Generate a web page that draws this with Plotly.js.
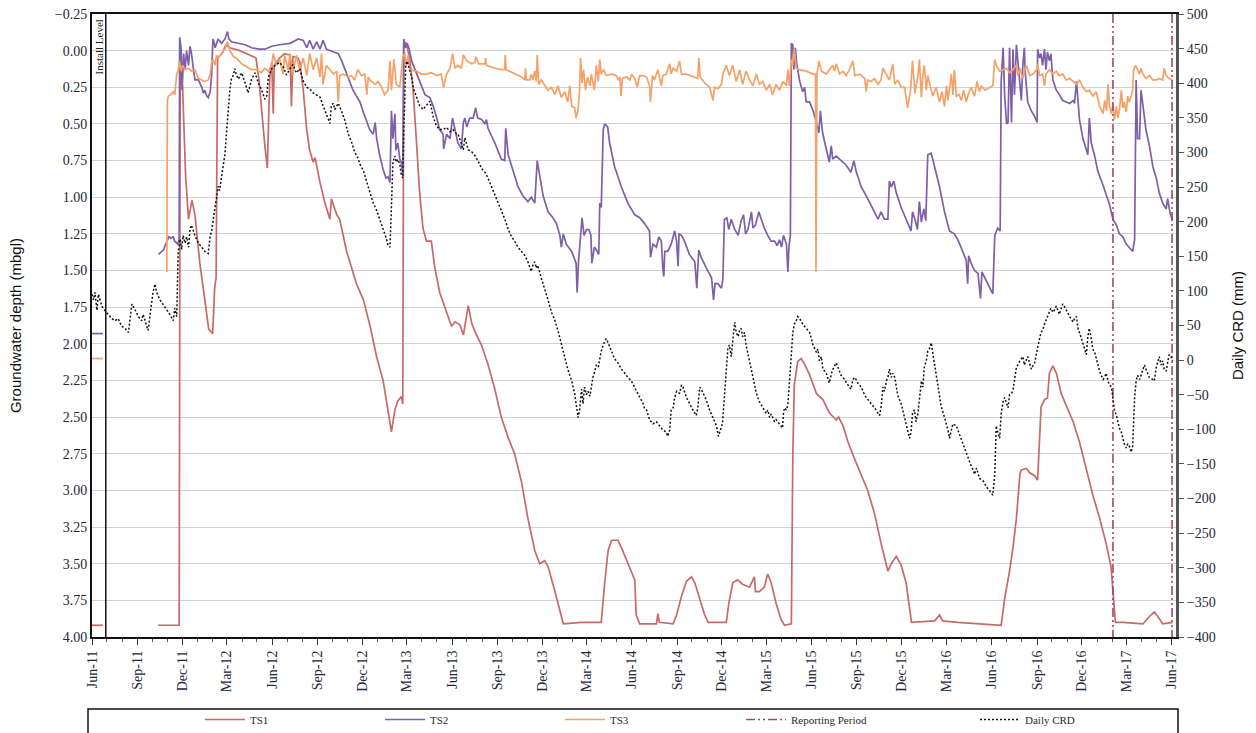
<!DOCTYPE html>
<html>
<head>
<meta charset="utf-8">
<script src="https://cdn.plot.ly/plotly-3.0.1.min.js"></script>
<style>
  html, body { margin: 0; padding: 0; background: #fff; }
  #chart { width: 1256px; height: 733px; }
</style>
</head>
<body>
<div id="chart"></div>
<script>
// Groundwater depth (mbgl) for three monitoring bores, plus daily cumulative rainfall departure (mm)

const X_RANGE = ['2011-06-01', '2017-06-10'];
const DEPTH_RANGE = [4.0, -0.25];
const CRD_RANGE = [-400, 500];
const INSTALL_DATE = '2011-06-29';
const REPORTING_DATES = ['2017-02-02', '2017-06-02'];

// TS1 depth readings [date, mbgl]
const ts1 = [
['2011-06-01',3.92],['2011-06-23',3.92],['2011-06-24',null],
['2011-10-13',3.92],['2011-11-25',3.92],['2011-11-27',0.10],['2011-12-02',0.25],['2011-12-08',0.85],['2011-12-14',1.15],['2011-12-21',1.02],['2011-12-27',1.12],['2012-01-06',1.45],['2012-01-16',1.72],['2012-01-24',1.90],['2012-02-01',1.93],['2012-02-05',1.62],['2012-02-08',1.55],['2012-02-11',0.05],['2012-02-20',0.02],['2012-02-28',-0.04],['2012-03-07',-0.02],['2012-03-27',0.00],['2012-04-16',0.03],['2012-04-29',0.05],['2012-05-05',0.20],['2012-05-11',0.45],['2012-05-17',0.65],['2012-05-22',0.80],['2012-05-25',0.45],['2012-05-27',0.18],['2012-05-31',0.08],['2012-06-03',0.43],['2012-06-05',0.10],['2012-06-16',0.05],['2012-06-26',0.02],['2012-07-07',0.03],['2012-07-10',0.38],['2012-07-13',0.04],['2012-07-23',0.05],['2012-07-27',0.08],['2012-08-03',0.27],['2012-08-10',0.54],['2012-08-16',0.68],['2012-08-23',0.76],['2012-08-27',0.73],['2012-09-06',0.90],['2012-09-16',1.04],['2012-09-26',1.15],['2012-09-29',1.01],['2012-10-10',1.12],['2012-10-16',1.15],['2012-10-30',1.37],['2012-11-19',1.59],['2012-12-03',1.70],['2012-12-16',1.87],['2012-12-30',2.09],['2013-01-12',2.25],['2013-01-22',2.45],['2013-01-29',2.60],['2013-02-05',2.45],['2013-02-11',2.39],['2013-02-18',2.36],['2013-02-21',2.41],['2013-02-23',-0.06],['2013-02-28',-0.05],['2013-03-07',0.05],['2013-03-14',0.27],['2013-03-21',0.63],['2013-03-27',0.96],['2013-04-03',1.21],['2013-04-10',1.30],['2013-04-20',1.30],['2013-04-27',1.48],['2013-05-07',1.65],['2013-05-21',1.79],['2013-05-31',1.88],['2013-06-07',1.85],['2013-06-17',1.87],['2013-06-24',1.94],['2013-06-29',1.85],['2013-07-04',1.74],['2013-07-11',1.86],['2013-07-18',1.92],['2013-07-31',2.01],['2013-08-13',2.14],['2013-08-27',2.31],['2013-09-09',2.50],['2013-09-23',2.64],['2013-10-06',2.75],['2013-10-20',2.94],['2013-11-02',3.19],['2013-11-16',3.41],['2013-11-26',3.50],['2013-12-06',3.48],['2013-12-13',3.52],['2013-12-27',3.69],['2014-01-06',3.83],['2014-01-13',3.91],['2014-02-19',3.90],['2014-03-31',3.90],['2014-04-07',3.63],['2014-04-14',3.41],['2014-04-21',3.34],['2014-05-04',3.34],['2014-05-11',3.39],['2014-05-24',3.50],['2014-06-07',3.61],['2014-06-10',3.85],['2014-06-17',3.91],['2014-07-21',3.91],['2014-07-24',3.84],['2014-07-27',3.90],['2014-08-24',3.91],['2014-08-31',3.85],['2014-09-10',3.72],['2014-09-20',3.62],['2014-09-30',3.59],['2014-10-07',3.63],['2014-10-17',3.74],['2014-10-27',3.85],['2014-11-03',3.90],['2014-12-10',3.90],['2014-12-15',3.77],['2014-12-23',3.63],['2015-01-02',3.61],['2015-01-12',3.64],['2015-01-26',3.66],['2015-02-02',3.61],['2015-02-05',3.59],['2015-02-07',3.69],['2015-02-15',3.69],['2015-02-25',3.66],['2015-03-04',3.57],['2015-03-11',3.63],['2015-03-21',3.77],['2015-03-31',3.88],['2015-04-07',3.92],['2015-04-21',3.91],['2015-04-24',2.75],['2015-04-27',2.28],['2015-05-04',2.12],['2015-05-11',2.10],['2015-05-18',2.14],['2015-05-28',2.21],['2015-06-11',2.34],['2015-06-24',2.38],['2015-07-01',2.43],['2015-07-07',2.47],['2015-07-21',2.52],['2015-07-26',2.50],['2015-08-04',2.56],['2015-08-14',2.67],['2015-08-28',2.79],['2015-09-10',2.89],['2015-09-23',3.00],['2015-10-07',3.16],['2015-10-20',3.36],['2015-11-03',3.55],['2015-11-10',3.50],['2015-11-20',3.45],['2015-11-30',3.51],['2015-12-10',3.63],['2015-12-17',3.80],['2015-12-21',3.90],['2016-02-06',3.89],['2016-02-16',3.85],['2016-02-22',3.89],['2016-03-24',3.90],['2016-06-20',3.92],['2016-06-27',3.74],['2016-07-07',3.55],['2016-07-14',3.39],['2016-07-21',3.19],['2016-07-28',2.89],['2016-07-31',2.86],['2016-08-10',2.85],['2016-08-17',2.88],['2016-08-27',2.90],['2016-09-02',2.93],['2016-09-09',2.43],['2016-09-16',2.38],['2016-09-22',2.37],['2016-09-26',2.20],['2016-10-03',2.15],['2016-10-10',2.20],['2016-10-20',2.34],['2016-10-30',2.42],['2016-11-13',2.53],['2016-11-26',2.67],['2016-12-10',2.86],['2016-12-23',3.03],['2017-01-06',3.19],['2017-01-19',3.36],['2017-01-29',3.52],['2017-02-03',3.74],['2017-02-07',3.90],['2017-02-22',3.90],['2017-04-04',3.91],['2017-04-17',3.86],['2017-04-27',3.83],['2017-05-04',3.86],['2017-05-14',3.91],['2017-06-03',3.90]
];

// TS2 depth readings [date, mbgl]
const ts2 = [
['2011-06-01',1.93],['2011-06-23',1.93],['2011-06-24',null],
['2011-10-14',1.39],['2011-10-24',1.36],['2011-10-31',1.30],['2011-11-04',1.27],['2011-11-08',1.28],['2011-11-13',1.27],['2011-11-16',1.30],['2011-11-22',1.32],['2011-11-25',1.29],['2011-11-26',-0.09],['2011-11-29',-0.01],['2011-12-01',0.27],['2011-12-04',0.02],['2011-12-07',0.13],['2011-12-10',0.00],['2011-12-14',0.10],['2011-12-17',-0.03],['2011-12-20',0.02],['2011-12-24',0.13],['2011-12-27',0.20],['2012-01-03',0.20],['2012-01-10',0.25],['2012-01-13',0.29],['2012-01-16',0.27],['2012-01-20',0.31],['2012-01-23',0.32],['2012-01-27',0.28],['2012-01-30',0.16],['2012-02-01',-0.04],['2012-02-02',-0.08],['2012-02-06',-0.02],['2012-02-09',-0.06],['2012-02-12',-0.08],['2012-02-19',-0.05],['2012-02-26',-0.08],['2012-03-02',-0.13],['2012-03-05',-0.08],['2012-03-10',-0.06],['2012-03-24',-0.05],['2012-04-07',-0.04],['2012-04-20',-0.02],['2012-05-04',-0.01],['2012-05-17',-0.01],['2012-05-31',-0.03],['2012-06-16',-0.04],['2012-07-07',-0.05],['2012-07-24',-0.08],['2012-08-03',-0.07],['2012-08-10',-0.02],['2012-08-16',-0.07],['2012-08-23',-0.01],['2012-08-30',-0.06],['2012-09-06',-0.01],['2012-09-12',-0.07],['2012-09-19',-0.01],['2012-09-26',0.00],['2012-10-06',0.01],['2012-10-13',0.02],['2012-10-20',0.07],['2012-10-30',0.16],['2012-11-06',0.23],['2012-11-12',0.27],['2012-11-19',0.31],['2012-11-26',0.35],['2012-12-03',0.42],['2012-12-10',0.49],['2012-12-16',0.54],['2012-12-23',0.57],['2012-12-27',0.49],['2012-12-30',0.60],['2013-01-05',0.71],['2013-01-12',0.81],['2013-01-18',0.87],['2013-01-22',0.86],['2013-01-26',0.90],['2013-01-29',0.41],['2013-02-01',0.60],['2013-02-05',0.43],['2013-02-07',0.68],['2013-02-11',0.63],['2013-02-15',0.74],['2013-02-18',0.76],['2013-02-21',0.85],['2013-02-23',-0.08],['2013-02-27',-0.02],['2013-03-02',-0.05],['2013-03-06',-0.01],['2013-03-11',0.07],['2013-03-18',0.13],['2013-03-24',0.18],['2013-03-31',0.24],['2013-04-07',0.30],['2013-04-17',0.32],['2013-04-24',0.38],['2013-05-01',0.46],['2013-05-07',0.54],['2013-05-14',0.57],['2013-05-15',0.67],['2013-05-21',0.57],['2013-05-28',0.60],['2013-06-02',0.46],['2013-06-10',0.60],['2013-06-13',0.63],['2013-06-20',0.67],['2013-06-24',0.49],['2013-06-27',0.46],['2013-07-01',0.52],['2013-07-07',0.46],['2013-07-14',0.46],['2013-07-19',0.39],['2013-07-23',0.46],['2013-07-31',0.47],['2013-08-07',0.50],['2013-08-10',0.47],['2013-08-13',0.53],['2013-08-27',0.63],['2013-09-09',0.74],['2013-09-16',0.75],['2013-09-18',0.53],['2013-09-23',0.71],['2013-10-03',0.82],['2013-10-13',0.93],['2013-10-23',0.99],['2013-11-02',1.03],['2013-11-09',1.00],['2013-11-16',1.04],['2013-11-21',0.75],['2013-11-26',0.85],['2013-12-03',0.99],['2013-12-13',1.10],['2013-12-23',1.14],['2013-12-30',1.18],['2014-01-06',1.26],['2014-01-09',1.34],['2014-01-13',1.25],['2014-01-19',1.32],['2014-01-30',1.37],['2014-02-08',1.45],['2014-02-10',1.65],['2014-02-13',1.43],['2014-02-17',1.29],['2014-02-20',1.14],['2014-02-24',1.26],['2014-03-01',1.22],['2014-03-06',1.22],['2014-03-10',1.26],['2014-03-12',1.45],['2014-03-17',1.34],['2014-03-21',1.36],['2014-03-26',1.39],['2014-03-28',1.04],['2014-03-31',1.07],['2014-04-04',0.54],['2014-04-07',0.50],['2014-04-13',0.52],['2014-04-17',0.63],['2014-04-27',0.79],['2014-05-11',0.93],['2014-05-24',1.04],['2014-06-07',1.12],['2014-06-17',1.14],['2014-06-27',1.18],['2014-07-07',1.23],['2014-07-09',1.41],['2014-07-14',1.32],['2014-07-21',1.34],['2014-07-26',1.27],['2014-07-31',1.30],['2014-08-03',1.48],['2014-08-05',1.54],['2014-08-07',1.37],['2014-08-13',1.37],['2014-08-20',1.32],['2014-08-24',1.26],['2014-08-27',1.23],['2014-08-31',1.30],['2014-09-03',1.47],['2014-09-05',1.25],['2014-09-10',1.26],['2014-09-16',1.30],['2014-09-26',1.39],['2014-10-07',1.44],['2014-10-11',1.62],['2014-10-15',1.36],['2014-10-20',1.41],['2014-10-30',1.48],['2014-11-10',1.55],['2014-11-14',1.70],['2014-11-17',1.59],['2014-11-23',1.59],['2014-11-30',1.62],['2014-12-03',1.56],['2014-12-06',1.15],['2014-12-11',1.14],['2014-12-15',1.22],['2014-12-20',1.15],['2014-12-27',1.22],['2015-01-03',1.26],['2015-01-09',1.16],['2015-01-14',1.12],['2015-01-18',1.25],['2015-01-23',1.22],['2015-01-30',1.10],['2015-02-02',1.21],['2015-02-07',1.19],['2015-02-14',1.10],['2015-02-19',1.15],['2015-02-25',1.21],['2015-03-04',1.26],['2015-03-11',1.30],['2015-03-18',1.30],['2015-03-23',1.33],['2015-03-28',1.29],['2015-04-01',1.34],['2015-04-05',1.26],['2015-04-11',1.32],['2015-04-14',1.51],['2015-04-16',1.34],['2015-04-19',1.26],['2015-04-21',-0.05],['2015-04-24',-0.04],['2015-04-26',0.13],['2015-04-29',-0.02],['2015-05-02',0.09],['2015-05-08',0.21],['2015-05-14',0.28],['2015-05-18',0.25],['2015-05-21',0.35],['2015-05-28',0.35],['2015-06-04',0.41],['2015-06-11',0.49],['2015-06-16',0.56],['2015-06-19',0.41],['2015-06-23',0.55],['2015-06-28',0.63],['2015-07-04',0.71],['2015-07-07',0.76],['2015-07-11',0.65],['2015-07-14',0.74],['2015-07-21',0.72],['2015-07-31',0.75],['2015-08-10',0.78],['2015-08-20',0.83],['2015-08-26',0.75],['2015-08-31',0.83],['2015-09-10',0.93],['2015-09-23',1.01],['2015-10-07',1.10],['2015-10-14',1.15],['2015-10-20',1.10],['2015-10-27',1.15],['2015-11-03',1.15],['2015-11-06',0.89],['2015-11-10',0.93],['2015-11-15',0.89],['2015-11-20',0.97],['2015-11-30',1.07],['2015-12-10',1.15],['2015-12-20',1.23],['2015-12-23',1.10],['2015-12-28',1.15],['2016-01-02',1.22],['2016-01-06',1.03],['2016-01-10',1.17],['2016-01-15',1.08],['2016-01-19',1.16],['2016-01-23',0.71],['2016-01-30',0.70],['2016-02-06',0.79],['2016-02-16',0.93],['2016-02-26',1.10],['2016-03-07',1.23],['2016-03-17',1.25],['2016-03-24',1.29],['2016-04-03',1.37],['2016-04-10',1.43],['2016-04-13',1.59],['2016-04-15',1.40],['2016-04-20',1.45],['2016-04-27',1.50],['2016-05-04',1.52],['2016-05-09',1.69],['2016-05-12',1.51],['2016-05-18',1.55],['2016-05-28',1.62],['2016-06-03',1.66],['2016-06-07',1.26],['2016-06-10',1.23],['2016-06-13',1.21],['2016-06-18',1.23],['2016-06-20',0.21],['2016-06-24',-0.02],['2016-06-27',0.30],['2016-07-01',0.50],['2016-07-04',0.49],['2016-07-07',-0.02],['2016-07-11',0.49],['2016-07-14',-0.01],['2016-07-17',0.30],['2016-07-21',-0.04],['2016-07-24',0.07],['2016-07-31',0.34],['2016-08-03',0.10],['2016-08-06',-0.02],['2016-08-08',0.15],['2016-08-13',0.35],['2016-08-20',0.41],['2016-08-27',0.45],['2016-09-01',0.49],['2016-09-02',-0.01],['2016-09-06',0.05],['2016-09-09',0.02],['2016-09-12',0.10],['2016-09-16',-0.01],['2016-09-19',0.13],['2016-09-22',0.01],['2016-09-26',0.07],['2016-09-29',0.02],['2016-10-03',0.20],['2016-10-10',0.27],['2016-10-16',0.30],['2016-10-23',0.34],['2016-10-30',0.35],['2016-11-06',0.36],['2016-11-13',0.34],['2016-11-16',0.36],['2016-11-20',0.21],['2016-11-23',0.34],['2016-11-26',0.47],['2016-12-03',0.60],['2016-12-13',0.71],['2016-12-16',0.46],['2016-12-20',0.63],['2016-12-27',0.72],['2017-01-02',0.82],['2017-01-13',0.92],['2017-01-23',1.03],['2017-01-26',1.05],['2017-02-02',1.15],['2017-02-09',1.19],['2017-02-15',1.25],['2017-02-22',1.27],['2017-03-01',1.32],['2017-03-07',1.34],['2017-03-14',1.37],['2017-03-18',1.29],['2017-03-21',0.20],['2017-03-24',0.60],['2017-03-28',0.60],['2017-03-31',0.27],['2017-04-04',0.38],['2017-04-10',0.54],['2017-04-17',0.65],['2017-04-24',0.79],['2017-05-01',0.87],['2017-05-07',0.97],['2017-05-14',1.04],['2017-05-21',1.08],['2017-05-24',1.01],['2017-05-29',1.11],['2017-06-03',1.16]
];

// TS3 depth readings [date, mbgl]
const ts3 = [
['2011-06-01',2.10],['2011-06-23',2.10],['2011-06-24',null],
['2011-10-31',1.51],['2011-11-01',0.34],['2011-11-03',0.31],['2011-11-08',0.30],['2011-11-13',0.28],['2011-11-16',0.30],['2011-11-20',0.16],['2011-11-23',0.14],['2011-11-25',0.07],['2011-11-29',0.14],['2011-12-02',0.10],['2011-12-07',0.13],['2011-12-14',0.12],['2011-12-20',0.14],['2011-12-27',0.13],['2012-01-03',0.19],['2012-01-10',0.20],['2012-01-16',0.21],['2012-01-23',0.20],['2012-01-27',0.16],['2012-01-30',0.08],['2012-02-02',0.06],['2012-02-06',0.10],['2012-02-09',0.03],['2012-02-12',0.05],['2012-02-19',0.02],['2012-02-26',-0.01],['2012-03-02',-0.06],['2012-03-07',0.00],['2012-03-14',0.04],['2012-03-20',0.05],['2012-03-31',0.09],['2012-04-10',0.11],['2012-04-20',0.13],['2012-04-30',0.13],['2012-05-10',0.15],['2012-05-17',0.12],['2012-05-24',0.14],['2012-05-31',0.10],['2012-06-03',0.02],['2012-06-09',0.10],['2012-06-16',0.06],['2012-06-23',0.16],['2012-06-26',0.03],['2012-07-03',0.13],['2012-07-07',0.02],['2012-07-13',0.16],['2012-07-20',0.03],['2012-07-27',0.14],['2012-08-03',0.05],['2012-08-10',0.17],['2012-08-16',0.02],['2012-08-23',0.13],['2012-08-30',0.05],['2012-09-06',0.18],['2012-09-09',0.02],['2012-09-12',0.23],['2012-09-19',0.10],['2012-09-26',0.13],['2012-10-03',0.16],['2012-10-10',0.14],['2012-10-13',0.35],['2012-10-16',0.17],['2012-10-23',0.16],['2012-11-02',0.18],['2012-11-09',0.17],['2012-11-15',0.20],['2012-11-22',0.13],['2012-11-29',0.17],['2012-12-06',0.16],['2012-12-10',0.30],['2012-12-13',0.18],['2012-12-16',0.20],['2012-12-27',0.23],['2013-01-02',0.21],['2013-01-09',0.25],['2013-01-15',0.30],['2013-01-22',0.27],['2013-01-26',0.07],['2013-01-29',0.27],['2013-02-03',0.06],['2013-02-08',0.23],['2013-02-15',0.25],['2013-02-21',0.05],['2013-02-25',0.02],['2013-02-28',0.10],['2013-03-04',0.03],['2013-03-07',0.13],['2013-03-21',0.14],['2013-03-31',0.16],['2013-04-10',0.16],['2013-04-20',0.15],['2013-04-30',0.17],['2013-05-10',0.16],['2013-05-15',0.25],['2013-05-21',0.16],['2013-05-28',0.12],['2013-06-02',0.02],['2013-06-07',0.12],['2013-06-13',0.10],['2013-06-20',0.12],['2013-06-24',0.03],['2013-07-01',0.07],['2013-07-11',0.09],['2013-07-18',0.08],['2013-07-19',0.04],['2013-07-25',0.09],['2013-08-07',0.09],['2013-08-08',0.05],['2013-08-10',0.10],['2013-08-27',0.12],['2013-09-09',0.13],['2013-09-16',0.13],['2013-09-17',0.03],['2013-09-19',0.13],['2013-10-06',0.16],['2013-10-20',0.18],['2013-10-27',0.20],['2013-10-28',0.12],['2013-10-30',0.20],['2013-11-06',0.20],['2013-11-09',0.16],['2013-11-12',0.20],['2013-11-16',0.14],['2013-11-19',0.21],['2013-11-21',0.03],['2013-11-24',0.23],['2013-11-29',0.20],['2013-12-06',0.24],['2013-12-13',0.27],['2013-12-20',0.25],['2013-12-27',0.30],['2014-01-02',0.24],['2014-01-09',0.32],['2014-01-16',0.28],['2014-01-22',0.35],['2014-01-26',0.24],['2014-01-30',0.38],['2014-02-05',0.39],['2014-02-08',0.46],['2014-02-12',0.40],['2014-02-15',0.27],['2014-02-17',0.05],['2014-02-20',0.22],['2014-02-23',0.13],['2014-02-27',0.27],['2014-03-03',0.18],['2014-03-08',0.24],['2014-03-11',0.16],['2014-03-17',0.27],['2014-03-21',0.10],['2014-03-25',0.21],['2014-03-28',0.06],['2014-03-31',0.16],['2014-04-05',0.13],['2014-04-10',0.17],['2014-04-21',0.16],['2014-05-01',0.17],['2014-05-04',0.20],['2014-05-08',0.18],['2014-05-10',0.31],['2014-05-13',0.19],['2014-05-22',0.18],['2014-05-28',0.20],['2014-06-01',0.16],['2014-06-07',0.19],['2014-06-12',0.25],['2014-06-17',0.17],['2014-06-24',0.17],['2014-07-01',0.18],['2014-07-07',0.24],['2014-07-09',0.35],['2014-07-13',0.17],['2014-07-17',0.20],['2014-07-24',0.13],['2014-07-31',0.24],['2014-08-03',0.17],['2014-08-10',0.16],['2014-08-17',0.09],['2014-08-20',0.16],['2014-08-24',0.12],['2014-08-31',0.14],['2014-09-06',0.07],['2014-09-10',0.16],['2014-09-20',0.16],['2014-10-03',0.18],['2014-10-13',0.19],['2014-10-15',0.05],['2014-10-18',0.18],['2014-10-27',0.22],['2014-11-06',0.25],['2014-11-13',0.34],['2014-11-16',0.25],['2014-11-23',0.26],['2014-11-30',0.23],['2014-12-03',0.16],['2014-12-10',0.10],['2014-12-16',0.17],['2014-12-23',0.10],['2014-12-30',0.21],['2015-01-06',0.13],['2015-01-12',0.23],['2015-01-19',0.14],['2015-01-26',0.20],['2015-02-02',0.24],['2015-02-09',0.16],['2015-02-15',0.23],['2015-02-22',0.21],['2015-03-01',0.27],['2015-03-08',0.23],['2015-03-14',0.30],['2015-03-21',0.23],['2015-03-28',0.27],['2015-04-04',0.21],['2015-04-11',0.24],['2015-04-14',0.13],['2015-04-17',0.24],['2015-04-21',0.06],['2015-04-24',0.10],['2015-04-27',-0.01],['2015-05-01',0.12],['2015-05-08',0.13],['2015-05-21',0.14],['2015-06-04',0.16],['2015-06-09',0.16],['2015-06-10',1.51],['2015-06-12',0.16],['2015-06-16',0.07],['2015-06-21',0.14],['2015-07-01',0.16],['2015-07-14',0.10],['2015-07-18',0.14],['2015-07-21',0.09],['2015-07-28',0.16],['2015-08-04',0.14],['2015-08-10',0.17],['2015-08-17',0.13],['2015-08-24',0.07],['2015-08-28',0.17],['2015-09-07',0.16],['2015-09-17',0.19],['2015-09-20',0.28],['2015-09-23',0.20],['2015-09-30',0.21],['2015-10-07',0.19],['2015-10-14',0.23],['2015-10-20',0.20],['2015-10-24',0.12],['2015-10-31',0.16],['2015-11-06',0.20],['2015-11-13',0.09],['2015-11-17',0.23],['2015-11-23',0.20],['2015-11-30',0.25],['2015-12-07',0.25],['2015-12-13',0.39],['2015-12-19',0.27],['2015-12-23',0.07],['2015-12-28',0.29],['2016-01-03',0.17],['2016-01-06',0.06],['2016-01-10',0.32],['2016-01-13',0.16],['2016-01-16',0.10],['2016-01-20',0.27],['2016-01-23',0.17],['2016-01-28',0.24],['2016-02-02',0.31],['2016-02-09',0.25],['2016-02-16',0.35],['2016-02-21',0.28],['2016-02-26',0.38],['2016-03-01',0.24],['2016-03-04',0.34],['2016-03-11',0.16],['2016-03-14',0.30],['2016-03-17',0.13],['2016-03-21',0.31],['2016-03-27',0.30],['2016-03-31',0.34],['2016-04-05',0.27],['2016-04-10',0.35],['2016-04-15',0.29],['2016-04-20',0.25],['2016-04-27',0.31],['2016-05-02',0.21],['2016-05-07',0.28],['2016-05-11',0.24],['2016-05-18',0.27],['2016-05-24',0.26],['2016-05-31',0.25],['2016-06-03',0.24],['2016-06-07',0.06],['2016-06-10',0.10],['2016-06-17',0.14],['2016-06-24',0.13],['2016-07-01',0.12],['2016-07-07',0.15],['2016-07-14',0.13],['2016-07-21',0.10],['2016-07-24',0.17],['2016-07-28',0.12],['2016-08-03',0.19],['2016-08-10',0.10],['2016-08-17',0.17],['2016-08-24',0.16],['2016-08-31',0.13],['2016-09-02',0.09],['2016-09-06',0.17],['2016-09-12',0.16],['2016-09-16',0.24],['2016-09-19',0.16],['2016-09-26',0.13],['2016-10-03',0.16],['2016-10-10',0.14],['2016-10-16',0.17],['2016-10-23',0.16],['2016-10-30',0.20],['2016-11-06',0.19],['2016-11-13',0.21],['2016-11-20',0.23],['2016-11-26',0.20],['2016-12-03',0.25],['2016-12-10',0.28],['2016-12-16',0.27],['2016-12-23',0.31],['2016-12-30',0.28],['2017-01-06',0.38],['2017-01-13',0.43],['2017-01-16',0.34],['2017-01-20',0.41],['2017-01-23',0.23],['2017-01-26',0.38],['2017-01-30',0.43],['2017-02-02',0.36],['2017-02-05',0.47],['2017-02-09',0.38],['2017-02-12',0.46],['2017-02-15',0.41],['2017-02-19',0.27],['2017-02-22',0.39],['2017-02-25',0.35],['2017-03-01',0.42],['2017-03-04',0.31],['2017-03-07',0.35],['2017-03-11',0.31],['2017-03-14',0.27],['2017-03-16',0.13],['2017-03-20',0.10],['2017-03-24',0.13],['2017-03-28',0.16],['2017-03-31',0.12],['2017-04-04',0.16],['2017-04-10',0.19],['2017-04-17',0.17],['2017-04-24',0.20],['2017-05-01',0.20],['2017-05-07',0.19],['2017-05-14',0.20],['2017-05-17',0.12],['2017-05-21',0.17],['2017-05-27',0.19],['2017-06-03',0.20]
];

// Daily cumulative rainfall departure [date, mm]
const crd = [
['2011-06-01',95],['2011-06-04',87],['2011-06-07',98],['2011-06-11',72],['2011-06-14',95],['2011-06-21',78],['2011-06-27',72],['2011-07-04',66],['2011-07-11',60],['2011-07-18',57],['2011-07-24',60],['2011-07-31',49],['2011-08-07',46],['2011-08-14',40],['2011-08-17',57],['2011-08-21',81],['2011-08-28',72],['2011-09-03',63],['2011-09-10',57],['2011-09-13',66],['2011-09-20',49],['2011-09-23',43],['2011-09-27',66],['2011-09-30',87],['2011-10-03',98],['2011-10-07',110],['2011-10-10',98],['2011-10-17',87],['2011-10-24',80],['2011-10-31',72],['2011-11-06',66],['2011-11-13',57],['2011-11-16',75],['2011-11-20',63],['2011-11-23',157],['2011-11-27',175],['2011-11-30',160],['2011-12-03',180],['2011-12-07',169],['2011-12-10',178],['2011-12-14',163],['2011-12-17',189],['2011-12-20',195],['2011-12-27',180],['2012-01-03',169],['2012-01-10',163],['2012-01-16',157],['2012-01-23',154],['2012-01-27',180],['2012-01-30',186],['2012-02-02',204],['2012-02-06',222],['2012-02-09',234],['2012-02-12',251],['2012-02-15',245],['2012-02-19',263],['2012-02-22',274],['2012-02-26',298],['2012-02-29',327],['2012-03-03',362],['2012-03-07',391],['2012-03-10',406],['2012-03-14',412],['2012-03-17',421],['2012-03-20',412],['2012-03-24',406],['2012-03-31',415],['2012-04-07',400],['2012-04-13',386],['2012-04-20',406],['2012-04-27',415],['2012-05-04',400],['2012-05-10',391],['2012-05-17',377],['2012-05-21',382],['2012-05-24',409],['2012-05-31',421],['2012-06-09',427],['2012-06-16',430],['2012-06-23',424],['2012-06-30',412],['2012-07-07',421],['2012-07-13',427],['2012-07-20',415],['2012-07-27',421],['2012-08-03',403],['2012-08-10',394],['2012-08-16',392],['2012-08-23',386],['2012-08-30',383],['2012-09-06',380],['2012-09-12',368],['2012-09-19',356],['2012-09-26',342],['2012-09-29',368],['2012-10-03',371],['2012-10-06',362],['2012-10-13',371],['2012-10-20',359],['2012-10-27',345],['2012-11-02',327],['2012-11-09',315],['2012-11-15',301],['2012-11-22',292],['2012-11-26',283],['2012-12-03',274],['2012-12-10',257],['2012-12-16',242],['2012-12-23',227],['2012-12-30',216],['2013-01-05',204],['2013-01-12',189],['2013-01-19',175],['2013-01-22',166],['2013-01-26',163],['2013-01-28',201],['2013-01-30',245],['2013-02-01',286],['2013-02-05',295],['2013-02-08',286],['2013-02-11',290],['2013-02-15',283],['2013-02-18',268],['2013-02-21',263],['2013-02-23',327],['2013-02-25',386],['2013-02-27',427],['2013-03-02',432],['2013-03-06',421],['2013-03-11',409],['2013-03-15',392],['2013-03-21',380],['2013-03-27',368],['2013-04-03',362],['2013-04-10',368],['2013-04-17',374],['2013-04-24',351],['2013-04-30',339],['2013-05-07',333],['2013-05-14',333],['2013-05-21',336],['2013-05-28',330],['2013-06-03',333],['2013-06-10',327],['2013-06-13',327],['2013-06-20',312],['2013-06-24',304],['2013-06-27',321],['2013-07-04',304],['2013-07-11',301],['2013-07-18',295],['2013-07-25',286],['2013-07-31',277],['2013-08-07',271],['2013-08-13',263],['2013-08-20',251],['2013-08-27',239],['2013-09-02',227],['2013-09-09',216],['2013-09-16',204],['2013-09-23',189],['2013-09-30',178],['2013-10-06',172],['2013-10-13',163],['2013-10-20',157],['2013-10-27',151],['2013-11-02',142],['2013-11-09',128],['2013-11-12',137],['2013-11-16',142],['2013-11-19',133],['2013-11-22',137],['2013-11-29',119],['2013-12-06',104],['2013-12-13',87],['2013-12-20',69],['2013-12-27',57],['2014-01-02',43],['2014-01-09',22],['2014-01-16',5],['2014-01-22',-13],['2014-01-30',-30],['2014-02-05',-48],['2014-02-08',-63],['2014-02-12',-83],['2014-02-15',-72],['2014-02-19',-42],['2014-02-22',-63],['2014-02-25',-39],['2014-03-01',-50],['2014-03-04',-45],['2014-03-08',-52],['2014-03-11',-39],['2014-03-14',-25],['2014-03-18',-16],['2014-03-21',-7],['2014-03-25',-10],['2014-03-28',5],['2014-03-31',13],['2014-04-04',22],['2014-04-07',28],['2014-04-10',31],['2014-04-14',25],['2014-04-21',11],['2014-04-27',2],['2014-05-04',-4],['2014-05-11',-13],['2014-05-18',-19],['2014-05-24',-25],['2014-05-31',-30],['2014-06-07',-39],['2014-06-13',-48],['2014-06-20',-57],['2014-06-24',-63],['2014-06-27',-70],['2014-07-01',-72],['2014-07-07',-86],['2014-07-14',-92],['2014-07-21',-89],['2014-07-27',-95],['2014-08-03',-101],['2014-08-10',-104],['2014-08-13',-110],['2014-08-17',-101],['2014-08-20',-72],['2014-08-24',-69],['2014-08-27',-54],['2014-08-31',-45],['2014-09-06',-48],['2014-09-10',-36],['2014-09-13',-39],['2014-09-20',-54],['2014-09-26',-63],['2014-10-03',-72],['2014-10-10',-80],['2014-10-13',-69],['2014-10-17',-39],['2014-10-20',-42],['2014-10-24',-48],['2014-10-30',-57],['2014-11-06',-72],['2014-11-13',-83],['2014-11-20',-95],['2014-11-24',-110],['2014-11-28',-101],['2014-12-02',-92],['2014-12-06',-54],['2014-12-10',-19],['2014-12-13',16],['2014-12-16',22],['2014-12-20',5],['2014-12-23',28],['2014-12-27',55],['2014-12-30',40],['2015-01-03',34],['2015-01-06',43],['2015-01-09',46],['2015-01-12',34],['2015-01-16',40],['2015-01-19',22],['2015-01-26',-1],['2015-02-02',-25],['2015-02-09',-48],['2015-02-15',-60],['2015-02-22',-69],['2015-03-01',-77],['2015-03-04',-72],['2015-03-08',-83],['2015-03-11',-78],['2015-03-14',-83],['2015-03-18',-89],['2015-03-21',-86],['2015-03-28',-92],['2015-04-03',-98],['2015-04-05',-77],['2015-04-07',-69],['2015-04-11',-72],['2015-04-14',-63],['2015-04-17',-33],['2015-04-21',11],['2015-04-24',40],['2015-04-27',52],['2015-05-01',57],['2015-05-04',63],['2015-05-08',60],['2015-05-14',52],['2015-05-21',46],['2015-05-28',40],['2015-06-04',22],['2015-06-11',11],['2015-06-14',16],['2015-06-17',-1],['2015-06-21',5],['2015-06-24',-13],['2015-07-01',-19],['2015-07-07',-33],['2015-07-13',-15],['2015-07-18',-7],['2015-07-21',-4],['2015-07-31',-22],['2015-08-07',-28],['2015-08-14',-36],['2015-08-20',-42],['2015-08-24',-28],['2015-08-28',-25],['2015-09-03',-33],['2015-09-10',-39],['2015-09-17',-51],['2015-09-23',-57],['2015-09-30',-63],['2015-10-07',-69],['2015-10-14',-77],['2015-10-17',-80],['2015-10-20',-69],['2015-10-24',-39],['2015-10-27',-45],['2015-10-31',-30],['2015-11-03',-25],['2015-11-06',-13],['2015-11-10',-25],['2015-11-13',-19],['2015-11-17',-25],['2015-11-20',-39],['2015-11-23',-51],['2015-11-30',-63],['2015-12-07',-83],['2015-12-13',-101],['2015-12-17',-113],['2015-12-20',-104],['2015-12-23',-77],['2015-12-27',-72],['2015-12-30',-89],['2016-01-03',-77],['2016-01-06',-54],['2016-01-10',-30],['2016-01-13',-39],['2016-01-16',-10],['2016-01-20',-1],['2016-01-23',13],['2016-01-26',16],['2016-01-30',25],['2016-02-02',11],['2016-02-06',-7],['2016-02-12',-36],['2016-02-19',-66],['2016-02-26',-83],['2016-03-04',-101],['2016-03-07',-113],['2016-03-11',-101],['2016-03-14',-92],['2016-03-21',-95],['2016-03-27',-107],['2016-04-03',-121],['2016-04-10',-136],['2016-04-17',-147],['2016-04-24',-159],['2016-04-27',-165],['2016-05-01',-156],['2016-05-04',-162],['2016-05-07',-171],['2016-05-14',-174],['2016-05-21',-183],['2016-05-28',-189],['2016-06-03',-195],['2016-06-07',-165],['2016-06-10',-95],['2016-06-13',-104],['2016-06-17',-113],['2016-06-20',-77],['2016-06-24',-60],['2016-06-27',-54],['2016-07-01',-63],['2016-07-04',-69],['2016-07-07',-50],['2016-07-11',-48],['2016-07-14',-44],['2016-07-17',-28],['2016-07-21',-10],['2016-07-24',-7],['2016-07-28',-1],['2016-08-03',5],['2016-08-06',-7],['2016-08-13',5],['2016-08-20',-13],['2016-08-24',-7],['2016-08-27',-4],['2016-08-31',11],['2016-09-02',19],['2016-09-06',31],['2016-09-09',40],['2016-09-12',43],['2016-09-16',52],['2016-09-19',57],['2016-09-22',63],['2016-09-26',69],['2016-09-29',75],['2016-10-03',69],['2016-10-06',72],['2016-10-10',78],['2016-10-16',66],['2016-10-20',75],['2016-10-23',81],['2016-10-26',78],['2016-10-30',72],['2016-11-06',63],['2016-11-13',55],['2016-11-16',60],['2016-11-20',63],['2016-11-23',46],['2016-11-26',40],['2016-11-30',31],['2016-12-03',22],['2016-12-06',16],['2016-12-10',8],['2016-12-13',34],['2016-12-16',46],['2016-12-20',31],['2016-12-23',16],['2016-12-27',11],['2016-12-30',2],['2017-01-02',-7],['2017-01-06',-16],['2017-01-09',-22],['2017-01-13',-28],['2017-01-16',-25],['2017-01-19',-19],['2017-01-23',-30],['2017-01-26',-36],['2017-01-30',-39],['2017-02-02',-54],['2017-02-05',-72],['2017-02-09',-80],['2017-02-12',-89],['2017-02-15',-98],['2017-02-19',-104],['2017-02-22',-113],['2017-02-25',-121],['2017-03-01',-127],['2017-03-04',-121],['2017-03-07',-124],['2017-03-11',-133],['2017-03-14',-124],['2017-03-16',-83],['2017-03-18',-54],['2017-03-21',-30],['2017-03-24',-22],['2017-03-28',-28],['2017-03-31',-22],['2017-04-04',-13],['2017-04-07',-7],['2017-04-10',-13],['2017-04-14',-19],['2017-04-17',-25],['2017-04-24',-28],['2017-04-27',-30],['2017-05-01',-10],['2017-05-04',-1],['2017-05-07',5],['2017-05-11',-7],['2017-05-14',-1],['2017-05-17',-13],['2017-05-21',-16],['2017-05-24',-4],['2017-05-27',8],['2017-05-31',5],['2017-06-03',-1]
];

const COLORS = { ts1: '#C86A68', ts2: '#7E5FA8', ts3: '#F6A168', report: '#A8456F', crd: '#111111' };
const SERIF = 'Liberation Serif, Times New Roman, serif';
const SANS = 'Liberation Sans, Arial, sans-serif';

const dates = arr => arr.map(p => p[0]);
const vals = arr => arr.map(p => p[1]);

const lineTrace = (name, arr, color, legend) => ({
  type: 'scatter', mode: 'lines', name: name,
  x: dates(arr), y: vals(arr),
  line: { color: color, width: 1.7 },
  connectgaps: false, legend: legend, hoverinfo: 'x+y+name'
});

const traces = [
  lineTrace('TS1', ts1, COLORS.ts1, 'legend'),
  lineTrace('TS2', ts2, COLORS.ts2, 'legend2'),
  lineTrace('TS3', ts3, COLORS.ts3, 'legend3'),
  {
    type: 'scatter', mode: 'lines', name: 'Reporting Period', legend: 'legend4',
    x: [REPORTING_DATES[0], REPORTING_DATES[0], null, REPORTING_DATES[1], REPORTING_DATES[1]],
    y: [DEPTH_RANGE[1], DEPTH_RANGE[0], null, DEPTH_RANGE[1], DEPTH_RANGE[0]],
    line: { color: COLORS.report, width: 1.6, dash: '9px,3px,2px,3px,2px,3px' },
    hoverinfo: 'skip'
  },
  {
    type: 'scatter', mode: 'lines', name: 'Daily CRD', legend: 'legend5', yaxis: 'y2',
    x: dates(crd), y: vals(crd),
    line: { color: COLORS.crd, width: 1.5, dash: '2px,2px' }
  }
];

// plot area spans x 92..1176, y 14..637 of the 1256x733 page
const PX = px => (px - 92) / 1084;
const PY = py => (637 - py) / 623;

const legendBase = (xpx) => ({
  x: PX(xpx), y: PY(705), xanchor: 'left', yanchor: 'top',
  orientation: 'h', bgcolor: 'rgba(0,0,0,0)', borderwidth: 0,
  font: { family: SERIF, size: 11, color: '#2a2a2a' },
  itemwidth: 40
});

const layout = {
  width: 1256, height: 733,
  margin: { l: 92, r: 80, t: 14, b: 96, autoexpand: false },
  paper_bgcolor: '#ffffff', plot_bgcolor: '#ffffff',
  font: { family: SERIF, size: 14, color: '#262636' },
  showlegend: true,
  xaxis: {
    type: 'date', range: X_RANGE, autorange: false, automargin: false,
    tick0: '2011-06-01', dtick: 'M3', tickformat: '%b-%y', tickangle: -90,
    ticks: 'outside', ticklen: 6, tickwidth: 1, tickcolor: '#333',
    minor: { dtick: 'M1', tick0: '2011-06-01', ticks: 'outside', ticklen: 3, tickcolor: '#555', showgrid: false },
    showgrid: false, zeroline: false,
    showline: true, linecolor: '#111', linewidth: 2, mirror: true,
    tickfont: { family: SERIF, size: 14, color: '#262636' }
  },
  yaxis: {
    range: DEPTH_RANGE, autorange: false, automargin: false,
    tick0: 0, dtick: 0.25, tickformat: '.2f',
    showgrid: true, gridcolor: '#d2d2d2', gridwidth: 1,
    zeroline: false, showline: true, linecolor: '#111', linewidth: 2,
    ticks: '',
    tickfont: { family: SERIF, size: 14, color: '#262636' },
    title: { text: 'Groundwater depth (mbgl)', font: { family: SANS, size: 15, color: '#111' }, standoff: 30 }
  },
  yaxis2: {
    overlaying: 'y', side: 'right', range: CRD_RANGE, autorange: false, automargin: false,
    tick0: 0, dtick: 50, showgrid: false, zeroline: false,
    showline: true, linecolor: '#555', linewidth: 3,
    ticks: 'outside', ticklen: 5, tickcolor: '#555',
    tickfont: { family: SERIF, size: 14, color: '#262636' },
    title: { text: 'Daily CRD (mm)', font: { family: SANS, size: 15, color: '#111' }, standoff: 18 }
  },
  legend: legendBase(200),
  legend2: legendBase(380),
  legend3: legendBase(560),
  legend4: legendBase(741),
  legend5: legendBase(975),
  shapes: [
    { type: 'line', xref: 'x', yref: 'paper', x0: INSTALL_DATE, x1: INSTALL_DATE, y0: 0, y1: 1,
      line: { color: '#111', width: 1.5 } },
    { type: 'rect', xref: 'paper', yref: 'paper', x0: PX(88), x1: PX(1178), y0: PY(745), y1: PY(709),
      line: { color: '#111', width: 1.5 }, fillcolor: 'rgba(0,0,0,0)' }
  ],
  annotations: [
    { xref: 'x', yref: 'paper', x: '2011-06-15', y: 1, yshift: -3, xanchor: 'center', yanchor: 'top',
      text: 'Install Level', textangle: -90, showarrow: false,
      font: { family: SERIF, size: 11, color: '#222' } }
  ]
};

Plotly.newPlot('chart', traces, layout, { displayModeBar: false, staticPlot: true });
</script>
</body>
</html>
